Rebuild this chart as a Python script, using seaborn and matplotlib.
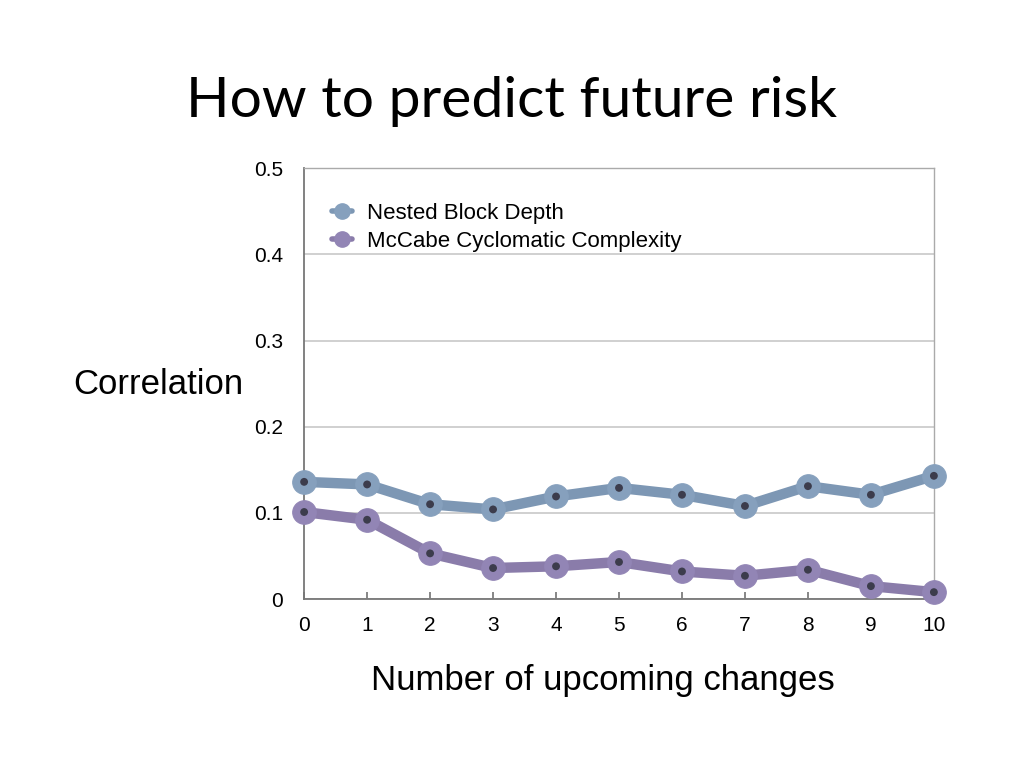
import matplotlib
matplotlib.use("Agg")
import matplotlib.pyplot as plt
import seaborn as sns
import pandas as pd
from matplotlib.lines import Line2D

changes = list(range(11))
nested_block_depth = [0.136, 0.133, 0.110, 0.104, 0.119, 0.129, 0.121, 0.108, 0.131, 0.121, 0.143]
mccabe = [0.101, 0.092, 0.053, 0.036, 0.038, 0.043, 0.032, 0.027, 0.034, 0.015, 0.008]
series_names = ["Nested Block Depth", "McCabe Cyclomatic Complexity"]
x_ticks = list(range(11))
y_ticks = [0, 0.1, 0.2, 0.3, 0.4, 0.5]
y_tick_labels = ["0", "0.1", "0.2", "0.3", "0.4", "0.5"]

df = pd.DataFrame({
    "x": changes * 2,
    "y": nested_block_depth + mccabe,
    "series": [series_names[0]] * 11 + [series_names[1]] * 11,
})

sns.set_theme(style="white")
plt.rcParams['font.family'] = ['Liberation Sans', 'DejaVu Sans']
plt.rcParams['text.color'] = 'black'
plt.rcParams['xtick.color'] = 'black'
plt.rcParams['ytick.color'] = 'black'
plt.rcParams['axes.labelcolor'] = 'black'

line_colors = {series_names[0]: "#7d97b4", series_names[1]: "#8a7caa"}
marker_colors = {series_names[0]: "#86a0bd", series_names[1]: "#9285b5"}

fig = plt.figure(figsize=(10.24, 7.68), dpi=100)
ax = fig.add_axes([0.297, 0.22, 0.615, 0.561])

for name in series_names:
    sub = df[df["series"] == name]
    sns.lineplot(data=sub, x="x", y="y", ax=ax, color=line_colors[name], lw=7.5,
                 marker="o", markersize=17, markerfacecolor=marker_colors[name],
                 markeredgecolor=marker_colors[name], clip_on=False, zorder=3)
    sns.scatterplot(data=sub, x="x", y="y", ax=ax, color="#3c3c4c", s=32,
                    edgecolor="none", clip_on=False, zorder=4)

ax.set_xlim(0, 10)
ax.set_ylim(0, 0.5)
ax.set_xticks(x_ticks)
ax.set_xticklabels([str(t) for t in x_ticks], fontsize=15)
ax.set_yticks(y_ticks)
ax.set_yticklabels(y_tick_labels, fontsize=15)
ax.yaxis.grid(True, color="#c8c8c8", lw=1.2)
ax.set_axisbelow(True)
ax.tick_params(axis="x", direction="in", length=5, color="#777777", bottom=True, pad=12)
ax.tick_params(axis="y", length=0, pad=15)
for side in ["left", "bottom"]:
    ax.spines[side].set_color("#777777")
    ax.spines[side].set_linewidth(1.3)
for side in ["top", "right"]:
    ax.spines[side].set_color("#aaaaaa")
    ax.spines[side].set_linewidth(1.0)

ax.set_xlabel("")
ax.set_ylabel("")
fig.text(0.589, 0.114, "Number of upcoming changes", fontsize=25, ha="center", va="center")
fig.text(0.155, 0.499, "Correlation", fontsize=25, ha="center", va="center")

handles = [Line2D([0], [0], color=line_colors[n], lw=4, marker="o", markersize=11,
                  markerfacecolor=marker_colors[n], markeredgecolor=marker_colors[n]) for n in series_names]
leg = ax.legend(handles, series_names, loc="upper left", bbox_to_anchor=(0.012, 0.965),
                frameon=False, fontsize=16, handlelength=0.9, handletextpad=0.7,
                labelspacing=0.3)

fig.text(0.5, 0.868, "How to predict future risk", fontsize=41, ha="center", va="center",
         family=["Lato", "DejaVu Sans"])

fig.savefig("out.png", dpi=100, facecolor="white")
